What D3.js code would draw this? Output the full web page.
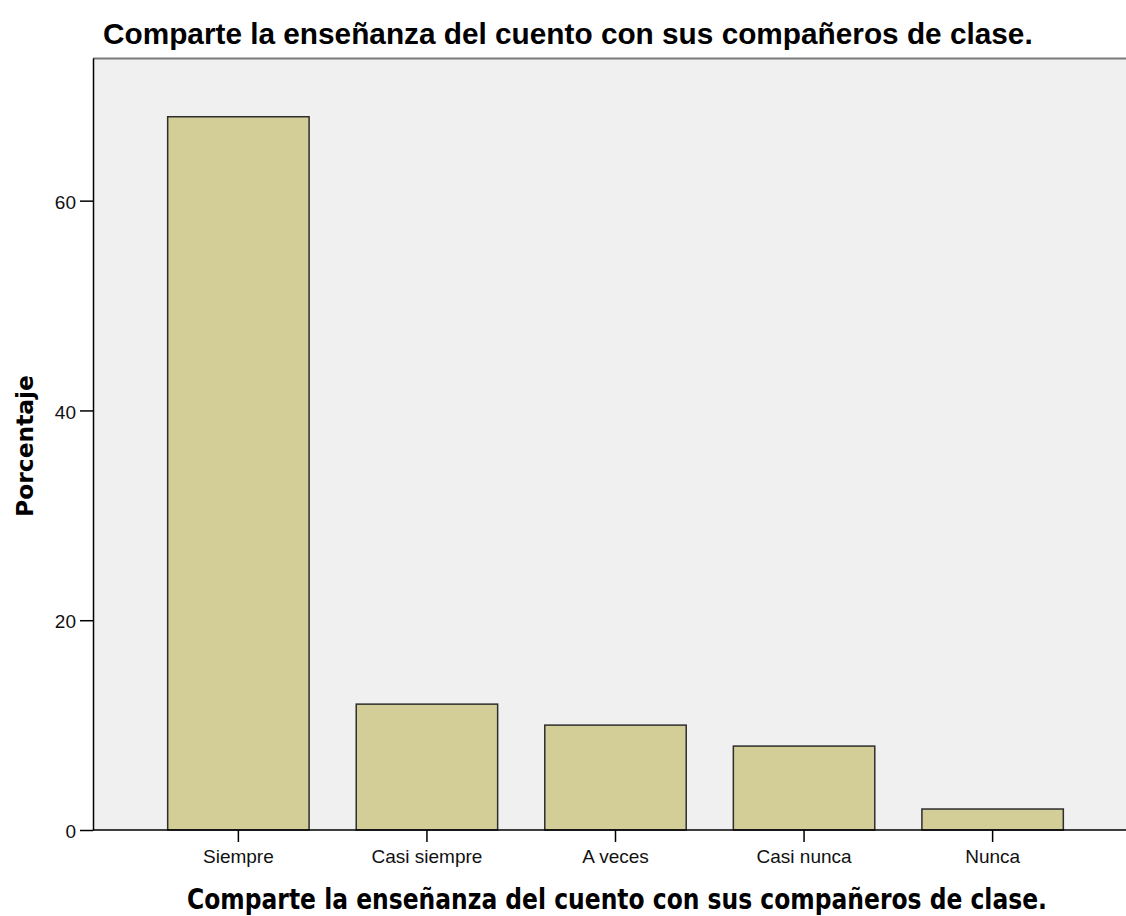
<!DOCTYPE html>
<html>
<head>
<meta charset="utf-8">
<script src="https://cdn.jsdelivr.net/npm/d3@7"></script>
<style>
  body { margin: 0; background: #fff; }
  svg { display: block; }
</style>
</head>
<body>
<div id="chart"></div>
<script>
// data (percent of responses)
const categories = ["Siempre", "Casi siempre", "A veces", "Casi nunca", "Nunca"];
const percentages = [68, 12, 10, 8, 2];
const yTicks = [0, 20, 40, 60];

const title = "Comparte la enseñanza del cuento con sus compañeros de clase.";
const xTitle = "Comparte la enseñanza del cuento con sus compañeros de clase.";
const yTitle = "Porcentaje";

const width = 1126, height = 916;
const plot = { left: 93, top: 58, right: 1126, bottom: 830 };

const svg = d3.select("#chart")
  .append("svg")
  .attr("width", width)
  .attr("height", height);

const x = d3.scaleBand()
  .domain(categories)
  .range([plot.left, 1138])
  .paddingInner(0.25)
  .paddingOuter(0.396);

const y = d3.scaleLinear()
  .domain([0, 73.6])
  .range([plot.bottom, plot.top]);

// plot background
svg.append("rect")
  .attr("x", plot.left)
  .attr("y", plot.top)
  .attr("width", plot.right - plot.left)
  .attr("height", plot.bottom - plot.top)
  .attr("fill", "#f0f0f0");

// top frame line
svg.append("line")
  .attr("x1", plot.left)
  .attr("x2", plot.right)
  .attr("y1", plot.top + 0.5)
  .attr("y2", plot.top + 0.5)
  .attr("stroke", "#7a7a7a")
  .attr("stroke-width", 2);

// bars
svg.append("g")
  .selectAll("rect")
  .data(categories)
  .join("rect")
  .attr("x", d => x(d))
  .attr("y", (d, i) => y(percentages[i]))
  .attr("width", x.bandwidth())
  .attr("height", (d, i) => y(0) - y(percentages[i]))
  .attr("fill", "#d3ce97")
  .attr("stroke", "#2e2e2e")
  .attr("stroke-width", 1.5);

// y axis
const yAxis = svg.append("g")
  .attr("transform", `translate(${plot.left},0)`)
  .call(d3.axisLeft(y).tickValues(yTicks).tickSize(13).tickSizeOuter(0).tickPadding(4));
yAxis.select(".domain").attr("stroke", "#000").attr("stroke-width", 1.5);
yAxis.selectAll(".tick line").attr("stroke", "#000").attr("stroke-width", 1.5);
yAxis.selectAll(".tick text")
  .attr("font-family", "Liberation Sans, Arial, sans-serif")
  .attr("font-size", 19)
  .attr("dy", "0.4em")
  .attr("fill", "#111");

// x axis
const xAxis = svg.append("g")
  .attr("transform", `translate(0,${plot.bottom})`)
  .call(d3.axisBottom(x).tickSize(12).tickSizeOuter(0).tickPadding(8));
xAxis.select(".domain")
  .attr("d", `M${plot.left},0H${plot.right}`)
  .attr("stroke", "#000").attr("stroke-width", 1.5);
xAxis.selectAll(".tick line").attr("stroke", "#000").attr("stroke-width", 1.5);
xAxis.selectAll(".tick text")
  .attr("font-family", "Liberation Sans, Arial, sans-serif")
  .attr("font-size", 19)
  .attr("fill", "#111");

// titles
function fitText(sel, target) {
  const w = sel.node().getComputedTextLength();
  const fs = parseFloat(sel.attr("font-size"));
  sel.attr("font-size", fs * target / w);
}

const t = svg.append("text")
  .attr("x", 103)
  .attr("y", 44)
  .attr("font-family", "Liberation Sans, Arial, sans-serif")
  .attr("font-weight", "bold")
  .attr("font-size", 30)
  .attr("fill", "#000")
  .text(title);
fitText(t, 930);

const xt = svg.append("text")
  .attr("transform", "translate(617,909) scale(1,1.18)")
  .attr("text-anchor", "middle")
  .attr("font-family", "DejaVu Sans, Verdana, sans-serif")
  .attr("font-weight", "bold")
  .attr("font-size", 21)
  .attr("fill", "#000")
  .text(xTitle);
fitText(xt, 860);

const yt = svg.append("text")
  .attr("transform", "translate(33,446) rotate(-90)")
  .attr("text-anchor", "middle")
  .attr("font-family", "DejaVu Sans, Verdana, sans-serif")
  .attr("font-weight", "bold")
  .attr("font-size", 23)
  .attr("fill", "#000")
  .text(yTitle);
fitText(yt, 142);
</script>
</body>
</html>
